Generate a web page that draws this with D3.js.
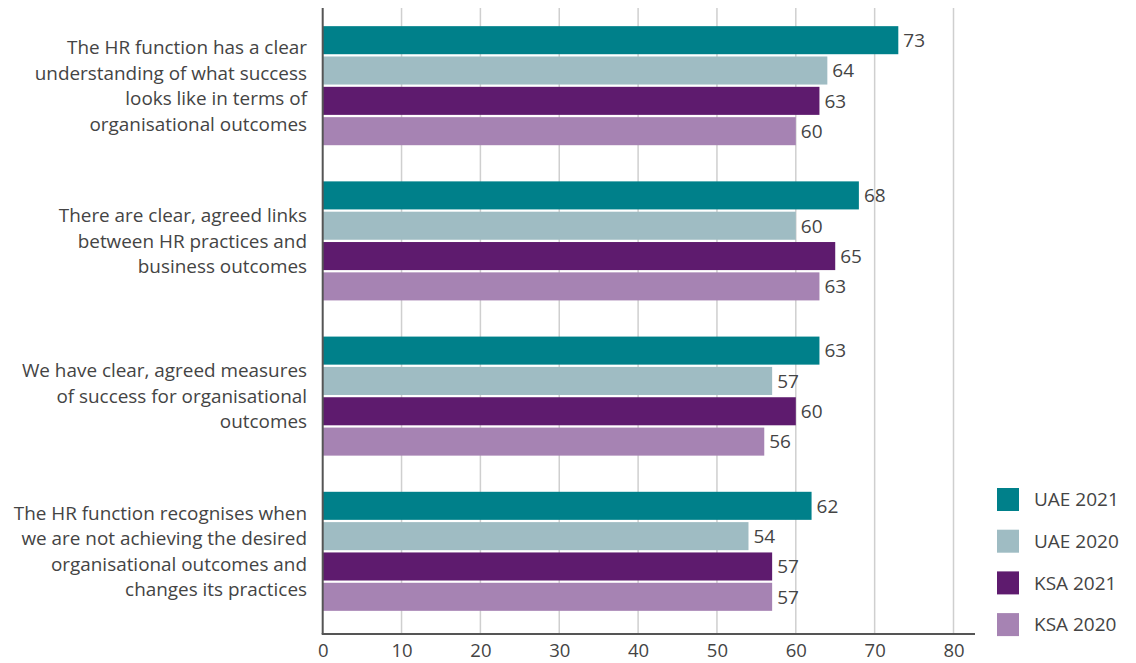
<!DOCTYPE html>
<html>
<head>
<meta charset="utf-8">
<script src="https://cdn.jsdelivr.net/npm/d3@7"></script>
<style>
  html, body { margin: 0; padding: 0; background: #fff; }
  svg text { font-family: "Open Sans", Lato, sans-serif; fill: #444; }
</style>
</head>
<body>
<svg id="chart" width="1136" height="663"></svg>
<script>
const categories = [
  ["The HR function has a clear", "understanding of what success", "looks like in terms of", "organisational outcomes"],
  ["There are clear, agreed links", "between HR practices and", "business outcomes"],
  ["We have clear, agreed measures", "of success for organisational", "outcomes"],
  ["The HR function recognises when", "we are not achieving the desired", "organisational outcomes and", "changes its practices"]
];
const seriesNames = ["UAE 2021", "UAE 2020", "KSA 2021", "KSA 2020"];
const uae2021 = [73, 68, 63, 62];
const uae2020 = [64, 60, 57, 54];
const ksa2021 = [63, 65, 60, 57];
const ksa2020 = [60, 63, 56, 57];
const colors = ["#00808a", "#9fbcc3", "#5e1b6e", "#a683b3"];
const xTicks = [0, 10, 20, 30, 40, 50, 60, 70, 80];

const seriesValues = [uae2021, uae2020, ksa2021, ksa2020];
const svg = d3.select("#chart");

const plotTop = 8, axisY = 634;
const x = d3.scaleLinear().domain([0, 80]).range([322.7, 953.5]);
const y0 = d3.scaleBand().domain(d3.range(categories.length)).range([8, 629]).paddingInner(0.233).paddingOuter(0.117);
const y1 = d3.scaleBand().domain(d3.range(seriesNames.length)).range([0, y0.bandwidth()]).paddingInner(0.075);

// vertical gridlines
svg.append("g").selectAll("line").data(xTicks.filter(d => d > 0)).join("line")
  .attr("x1", d => x(d)).attr("x2", d => x(d))
  .attr("y1", plotTop).attr("y2", axisY)
  .attr("stroke", "#cfcfcf").attr("stroke-width", 1.5);

// bars with value labels
const groups = svg.append("g").selectAll("g").data(categories).join("g")
  .attr("transform", (d, i) => `translate(0,${y0(i)})`);

groups.each(function(cat, ci) {
  const g = d3.select(this);
  seriesValues.forEach((vals, si) => {
    g.append("rect")
      .attr("x", x(0)).attr("y", y1(si))
      .attr("width", x(vals[ci]) - x(0)).attr("height", y1.bandwidth())
      .attr("fill", colors[si]);
    g.append("text")
      .attr("x", x(vals[ci]) + 5).attr("y", y1(si) + y1.bandwidth() / 2)
      .attr("dy", "0.36em").attr("font-size", 19)
      .text(vals[ci]);
  });
  // category label, right aligned against the axis
  const lh = 25.5;
  const cy = y0.bandwidth() / 2;
  const t = g.append("text").attr("text-anchor", "end").attr("font-size", 18.9);
  cat.forEach((line, li) => {
    t.append("tspan").attr("x", 307)
      .attr("y", cy + (li - (cat.length - 1) / 2) * lh)
      .attr("dy", "0.36em").text(line);
  });
});

// axis lines
svg.append("line").attr("x1", x(0)).attr("x2", x(0)).attr("y1", plotTop).attr("y2", axisY)
  .attr("stroke", "#555").attr("stroke-width", 2);
svg.append("line").attr("x1", x(0) - 1).attr("x2", 975).attr("y1", axisY).attr("y2", axisY)
  .attr("stroke", "#555").attr("stroke-width", 2);

// x axis tick labels
const xAxis = d3.axisBottom(x).tickValues(xTicks).tickSize(0).tickPadding(0);
const ax = svg.append("g").attr("transform", `translate(0,${axisY})`).call(xAxis);
ax.select(".domain").remove();
ax.selectAll("text").attr("font-size", 18.5).attr("y", 23).attr("dy", 0)
  .style("font-family", "'Open Sans', Lato, sans-serif").attr("fill", "#444");

// legend
const legend = svg.append("g").selectAll("g").data(seriesNames).join("g")
  .attr("transform", (d, i) => `translate(997,${499.5 + i * 41.7})`);
legend.append("rect").attr("x", 0).attr("y", -11.5).attr("width", 22).attr("height", 23)
  .attr("fill", (d, i) => colors[i]);
legend.append("text").attr("x", 37).attr("y", 0).attr("dy", "0.36em")
  .attr("font-size", 19).text(d => d);
</script>
</body>
</html>
